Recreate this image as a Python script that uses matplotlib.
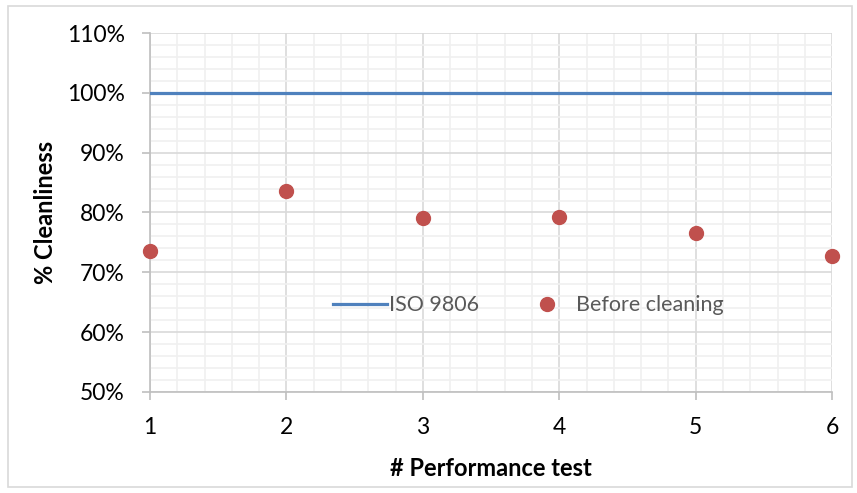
import matplotlib
matplotlib.use("Agg")
import matplotlib.pyplot as plt
from matplotlib.ticker import MultipleLocator, PercentFormatter
from matplotlib.patches import Rectangle

plt.rcParams['font.family'] = ['Lato', 'DejaVu Sans']

# Performance test results
tests = [1, 2, 3, 4, 5, 6]
iso_9806 = [100, 100, 100, 100, 100, 100]
before_cleaning = [73.6, 83.6, 79.1, 79.2, 76.6, 72.7]

fig = plt.figure(figsize=(8.57, 4.93), dpi=100)
ax = fig.add_axes([0.175, 0.205, 0.796, 0.728])

# outer chart border
fig.patches.append(Rectangle((0.009, 0.012), 0.985, 0.975, transform=fig.transFigure,
                             fill=False, edgecolor="#d9d9d9", linewidth=1.2))

ax.plot(tests, iso_9806, color="#4f81bd", linewidth=2.3, label="ISO 9806", zorder=3)
ax.plot(tests, before_cleaning, linestyle="none", marker="o", markersize=10,
        color="#c0504d", label="Before cleaning", zorder=4, clip_on=False)

ax.set_xlim(1, 6)
ax.set_ylim(50, 110)
ax.xaxis.set_major_locator(MultipleLocator(1))
ax.xaxis.set_minor_locator(MultipleLocator(0.2))
ax.yaxis.set_major_locator(MultipleLocator(10))
ax.yaxis.set_minor_locator(MultipleLocator(2))
ax.yaxis.set_major_formatter(PercentFormatter(decimals=0))

ax.grid(which="major", color="#d9d9d9", linewidth=1.2)
ax.grid(which="minor", color="#f0f0f0", linewidth=1.2)
ax.set_axisbelow(True)

for side in ["top", "right"]:
    ax.spines[side].set_visible(False)
for side in ["left", "bottom"]:
    ax.spines[side].set_color("#bfbfbf")
    ax.spines[side].set_linewidth(1.2)

ax.tick_params(which="major", length=6, width=1.2, color="#bfbfbf",
               labelsize=16.5, labelcolor="black")
ax.tick_params(axis="x", which="major", pad=12)
ax.tick_params(axis="y", which="major", pad=12)
ax.tick_params(which="minor", length=0)

ax.set_xlabel("# Performance test", fontsize=17, fontweight="bold", labelpad=14)
ax.set_ylabel("% Cleanliness", fontsize=17, fontweight="bold", labelpad=7)

leg = ax.legend(loc="center", bbox_to_anchor=(0.555, 0.242), ncol=2, frameon=False,
                fontsize=15.5, handlelength=2.5, columnspacing=1.9, handletextpad=0.1)
for t in leg.get_texts():
    t.set_color("#595959")

fig.savefig("out.png", dpi=100)
